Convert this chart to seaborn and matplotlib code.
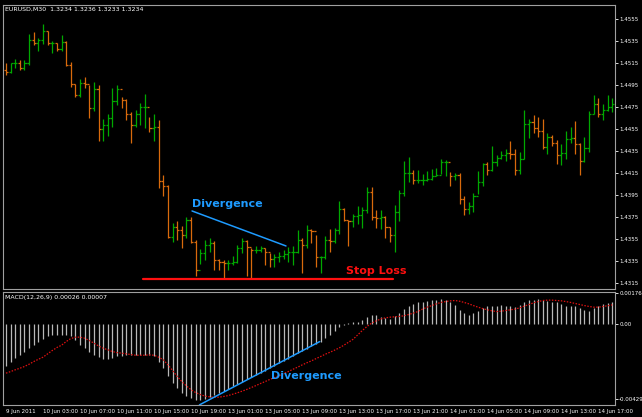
import numpy as np
import pandas as pd
import seaborn as sns
import matplotlib.pyplot as plt

# EURUSD M30 bars
highs = [1.4515, 1.4515, 1.4519, 1.4518, 1.4518, 1.4541, 1.4543, 1.4538, 1.4550, 1.4544,
         1.4535, 1.4533, 1.4540, 1.4535, 1.4516, 1.4496, 1.4500, 1.4502, 1.4495, 1.4498,
         1.4495, 1.4464, 1.4469, 1.4492, 1.4495, 1.4484, 1.4482, 1.4470, 1.4472, 1.4479,
         1.4487, 1.4466, 1.4469, 1.4463, 1.4413, 1.4404, 1.4370, 1.4371, 1.4367, 1.4375,
         1.4375, 1.4354, 1.4346, 1.4354, 1.4356, 1.4353, 1.4337, 1.4336, 1.4336, 1.4340,
         1.4350, 1.4356, 1.4354, 1.4347, 1.4349, 1.4349, 1.4347, 1.4342, 1.4341, 1.4343,
         1.4345, 1.4348, 1.4349, 1.4363, 1.4356, 1.4368, 1.4364, 1.4359, 1.4340, 1.4358,
         1.4364, 1.4365, 1.4390, 1.4383, 1.4372, 1.4378, 1.4385, 1.4384, 1.4402, 1.4402,
         1.4381, 1.4381, 1.4376, 1.4366, 1.4386, 1.4400, 1.4426, 1.4430, 1.4418, 1.4418,
         1.4414, 1.4417, 1.4419, 1.4420, 1.4428, 1.4427, 1.4416, 1.4415, 1.4415, 1.4394,
         1.4389, 1.4397, 1.4417, 1.4424, 1.4425, 1.4440, 1.4431, 1.4435, 1.4437, 1.4444,
         1.4437, 1.4434, 1.4472, 1.4464, 1.4468, 1.4466, 1.4464, 1.4451, 1.4450, 1.4445,
         1.4441, 1.4453, 1.4457, 1.4462, 1.4442, 1.4448, 1.4471, 1.4486, 1.4483, 1.4478,
         1.4486, 1.4483]
lows = [1.4504, 1.4506, 1.4510, 1.4509, 1.4509, 1.4513, 1.4531, 1.4526, 1.4532, 1.4531,
        1.4524, 1.4526, 1.4526, 1.4512, 1.4493, 1.4484, 1.4484, 1.4492, 1.4465, 1.4471,
        1.4444, 1.4444, 1.4449, 1.4457, 1.4477, 1.4474, 1.4463, 1.4442, 1.4457, 1.4459,
        1.4456, 1.4452, 1.4444, 1.4401, 1.4394, 1.4356, 1.4352, 1.4354, 1.4347, 1.4356,
        1.4351, 1.4321, 1.4332, 1.4336, 1.4343, 1.4327, 1.4327, 1.4319, 1.4327, 1.4331,
        1.4333, 1.4342, 1.4321, 1.4319, 1.4342, 1.4343, 1.4331, 1.4330, 1.4330, 1.4334,
        1.4337, 1.4334, 1.4331, 1.4342, 1.4324, 1.4347, 1.4351, 1.4330, 1.4324, 1.4337,
        1.4343, 1.4351, 1.4360, 1.4371, 1.4349, 1.4366, 1.4369, 1.4365, 1.4379, 1.4372,
        1.4365, 1.4364, 1.4356, 1.4352, 1.4343, 1.4371, 1.4394, 1.4407, 1.4405, 1.4406,
        1.4404, 1.4408, 1.4409, 1.4412, 1.4414, 1.4412, 1.4403, 1.4409, 1.4387, 1.4377,
        1.4378, 1.4380, 1.4396, 1.4403, 1.4413, 1.4417, 1.4421, 1.4428, 1.4426, 1.4428,
        1.4413, 1.4414, 1.4428, 1.4447, 1.4451, 1.4448, 1.4437, 1.4432, 1.4440, 1.4423,
        1.4422, 1.4428, 1.4442, 1.4432, 1.4413, 1.4425, 1.4434, 1.4469, 1.4466, 1.4463,
        1.4471, 1.4470]
closes = [1.4507, 1.4515, 1.4515, 1.4510, 1.4515, 1.4536, 1.4533, 1.4536, 1.4544, 1.4533,
          1.4533, 1.4528, 1.4534, 1.4513, 1.4496, 1.4486, 1.4497, 1.4496, 1.4474, 1.4491,
          1.4455, 1.4459, 1.4465, 1.4480, 1.4491, 1.4481, 1.4469, 1.4459, 1.4469, 1.4475,
          1.4475, 1.4456, 1.4457, 1.4408, 1.4403, 1.4357, 1.4366, 1.4363, 1.4359, 1.4372,
          1.4352, 1.4327, 1.4342, 1.4350, 1.4351, 1.4336, 1.4334, 1.4333, 1.4333, 1.4334,
          1.4347, 1.4353, 1.4348, 1.4345, 1.4345, 1.4347, 1.4343, 1.4337, 1.4339, 1.4340,
          1.4341, 1.4343, 1.4343, 1.4354, 1.4350, 1.4363, 1.4362, 1.4339, 1.4339, 1.4354,
          1.4353, 1.4363, 1.4382, 1.4372, 1.4371, 1.4376, 1.4377, 1.4381, 1.4398, 1.4375,
          1.4374, 1.4375, 1.4366, 1.4359, 1.4380, 1.4397, 1.4415, 1.4415, 1.4409, 1.4409,
          1.4409, 1.4410, 1.4412, 1.4413, 1.4425, 1.4425, 1.4412, 1.4413, 1.4391, 1.4382,
          1.4385, 1.4394, 1.4407, 1.4423, 1.4418, 1.4425, 1.4429, 1.4431, 1.4433, 1.4432,
          1.4418, 1.4428, 1.4460, 1.4461, 1.4456, 1.4453, 1.4439, 1.4448, 1.4442, 1.4431,
          1.4433, 1.4446, 1.4447, 1.4441, 1.4426, 1.4438, 1.4469, 1.4478, 1.4469, 1.4472,
          1.4475, 1.4478]

# MACD(12,26,9) in units of 1e-5
macd_hist = [-241, -213, -194, -175, -156, -137, -118, -99, -86, -70,
             -61, -61, -61, -61, -67, -89, -118, -137, -156, -175,
             -188, -198, -200, -194, -184, -179, -175, -175, -175, -175,
             -175, -175, -184, -213, -251, -298, -336, -365, -393, -412,
             -422, -431, -431, -428, -416, -403, -393, -380, -369, -355,
             -342, -327, -314, -302, -289, -276, -264, -251, -238, -222,
             -209, -196, -181, -167, -154, -141, -127, -112, -99, -80,
             -61, -36, -17, -6, 6, 10, 15, 25, 40, 53,
             51, 40, 34, 29, 44, 63, 86, 105, 116, 124,
             129, 133, 139, 139, 143, 139, 129, 110, 82, 63,
             53, 63, 78, 91, 101, 105, 105, 108, 105, 101,
             97, 110, 124, 135, 139, 143, 139, 133, 129, 124,
             116, 105, 101, 101, 91, 82, 78, 91, 105, 116,
             120, 124]
macd_signal = [-279, -270, -260, -251, -241, -228, -213, -200, -188, -169,
               -150, -133, -120, -99, -82, -74, -74, -80, -93, -108,
               -124, -137, -146, -156, -162, -165, -169, -173, -177, -177,
               -177, -175, -177, -188, -203, -232, -264, -298, -327, -352,
               -374, -390, -401, -410, -414, -416, -416, -412, -407, -399,
               -391, -382, -372, -361, -350, -338, -327, -315, -304, -293,
               -281, -270, -257, -245, -232, -220, -209, -196, -184, -171,
               -160, -148, -135, -120, -103, -86, -61, -36, -13, 6,
               19, 30, 36, 40, 42, 44, 48, 55, 63, 72,
               86, 97, 106, 116, 124, 129, 133, 135, 131, 124,
               116, 106, 97, 89, 82, 76, 72, 74, 78, 82,
               86, 93, 103, 112, 122, 129, 135, 137, 137, 135,
               133, 129, 124, 118, 112, 106, 101, 97, 97, 101,
               105, 110]

time_labels = ["9 Jun 2011", "10 Jun 03:00", "10 Jun 07:00", "10 Jun 11:00", "10 Jun 15:00",
               "10 Jun 19:00", "13 Jun 01:00", "13 Jun 05:00", "13 Jun 09:00", "13 Jun 13:00",
               "13 Jun 17:00", "13 Jun 21:00", "14 Jun 01:00", "14 Jun 05:00", "14 Jun 09:00",
               "14 Jun 13:00", "14 Jun 17:00"]
price_ticks = [1.4555, 1.4535, 1.4515, 1.4495, 1.4475, 1.4455, 1.4435, 1.4415,
               1.4395, 1.4375, 1.4355, 1.4335, 1.4315]

df = pd.DataFrame({"high": highs, "low": lows, "close": closes})
df["open"] = df["close"].shift(1).fillna(df["close"].iloc[0] + 0.0002)
df["bar"] = np.arange(len(df))
up = df["close"] >= df["open"]

sns.set_theme(style="dark", rc={"axes.facecolor": "black", "figure.facecolor": "black"})
plt.rcParams["font.family"] = ["DejaVu Sans"]

fig = plt.figure(figsize=(6.42, 4.17), dpi=100)
ax = fig.add_axes([0.005, 0.307, 0.953, 0.681])
ax2 = fig.add_axes([0.005, 0.029, 0.953, 0.271])

green, orange = "#00a800", "#d86a0c"
cols = np.where(up, green, orange)
ax.vlines(df["bar"], df["low"], df["high"], colors=cols, lw=0.9)
ax.hlines(df["open"], df["bar"] - 0.45, df["bar"], colors=cols, lw=0.9)
ax.hlines(df["close"], df["bar"], df["bar"] + 0.45, colors=cols, lw=0.9)

xlim = (-0.6, 131.6)
ax.set_xlim(*xlim)
ax.set_ylim(1.43096, 1.45677)
ax.yaxis.tick_right()
ax.set_yticks(price_ticks)
ax.set_yticklabels([f"{p:.4f}" for p in price_ticks])
ax.set_xticks([])

# annotations
blue = "#1e9bff"
ax.plot([40.2, 60.5], [1.43805, 1.43487], color=blue, lw=1.1)
ax.text(40.2, 1.4382, "Divergence", color=blue, fontsize=8, fontweight="bold", va="bottom")
ax.plot([29.5, 83.7], [1.43187, 1.43187], color="#ff1010", lw=1.6)
ax.text(73.4, 1.4326, "Stop Loss", color="#ff1010", fontsize=8, fontweight="bold", va="center")
ax.text(0.003, 0.995, "EURUSD,M30  1.3234 1.3236 1.3233 1.3234", transform=ax.transAxes,
        color="white", fontsize=4.5, va="top")

# MACD panel
macd = pd.DataFrame({"bar": df["bar"], "hist": macd_hist, "signal": macd_signal})
ax2.vlines(macd["bar"], 0, macd["hist"], colors="#b8b8b8", lw=0.9)
sns.lineplot(data=macd, x="bar", y="signal", ax=ax2, color="#e01010", lw=0.9,
             linestyle=(0, (1.2, 1.2)))
ax2.set_xlim(*xlim)
ax2.set_ylim(-460, 184)
ax2.yaxis.tick_right()
ax2.set_yticks([176, 0, -429])
ax2.set_yticklabels(["0.00176", "0.00", "-0.00429"])
ax2.set_xlabel("")
ax2.set_ylabel("")
ax2.set_xticks(np.arange(0, 129, 8))
ax2.set_xticklabels(time_labels, ha="left")
ax2.plot([41.8, 67.8], [-460, -99], color=blue, lw=1.1)
ax2.text(57.3, -298, "Divergence", color=blue, fontsize=8, fontweight="bold", va="center")
ax2.text(0.003, 0.97, "MACD(12,26,9) 0.00026 0.00007", transform=ax2.transAxes,
         color="white", fontsize=4.5, va="top")

for a in (ax, ax2):
    a.tick_params(colors="white", labelsize=4.0, length=2, width=0.6, pad=1)
    for s in a.spines.values():
        s.set_color("#a0a0a0")
        s.set_linewidth(0.8)
    a.grid(False)

fig.savefig("out.png", dpi=100, facecolor="black")
